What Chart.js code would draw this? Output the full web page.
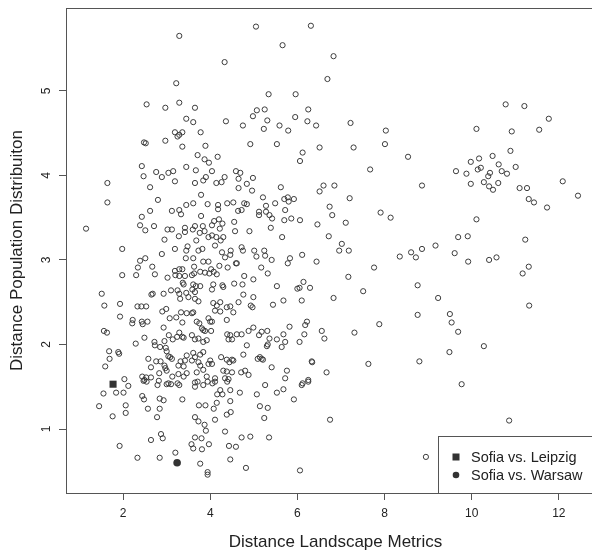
<!DOCTYPE html>
<html>
<head>
<meta charset="utf-8">
<script src="https://cdn.jsdelivr.net/npm/chart.js@4"></script>
<style>
  html, body { margin: 0; padding: 0; background: #fff; overflow: hidden; }
  #wrap { width: 592px; height: 554px; overflow: hidden; }
</style>
</head>
<body>
<div id="wrap"><canvas id="scatter" width="640" height="554"></canvas></div>
<script>
// tick labels
const xTicks = [2, 4, 6, 8, 10, 12];
const yTicks = [1, 2, 3, 4, 5];

// highlighted pairs [landscape distance, population distance]
const leipzig = [[1.77, 1.53]];
const warsaw = [[3.24, 0.60]];

// all other city pairs
const otherPairs = [
  [3.29,5.65],[3.22,5.09],[2.54,4.84],[2.97,4.80],[3.29,4.86],[3.65,4.80],[3.45,4.67],[3.61,4.63],[3.19,4.51],[3.36,4.51],[3.78,4.51],
  [5.05,5.76],[6.31,5.77],[5.66,5.54],[4.33,5.34],[6.83,5.41],[6.69,5.14],[5.34,4.96],[5.96,4.96],[5.07,4.77],[5.25,4.78],[6.25,4.78],
  [4.98,4.70],[5.95,4.69],[4.36,4.64],[5.31,4.65],[6.23,4.64],[4.75,4.59],[5.23,4.55],[5.59,4.59],[5.79,4.53],[6.43,4.59],[7.22,4.62],
  [8.03,4.53],[10.11,4.55],[10.78,4.84],[11.21,4.82],[11.77,4.67],[10.92,4.52],[11.55,4.54],
  [2.48,4.39],[2.52,4.38],[2.97,4.41],[3.25,4.46],[3.29,4.48],[3.36,4.34],[3.89,4.35],[3.71,4.24],[3.87,4.19],[3.97,4.15],[4.17,4.22],
  [2.43,4.11],[2.47,3.99],[2.76,4.04],[2.89,3.98],[3.04,4.03],[3.15,4.05],[3.45,4.10],[3.67,4.06],[4.04,4.05],[3.19,3.93],[3.65,3.91],
  [3.84,3.94],[3.90,3.98],[4.14,3.91],[1.64,3.91],[1.64,3.68],[2.62,3.86],[3.79,3.77],[2.80,3.71],[1.15,3.37],[2.62,3.58],[2.43,3.51],
  [3.12,3.58],[3.29,3.59],[3.33,3.54],[3.45,3.65],[3.61,3.67],[3.94,3.66],[4.18,3.65],[4.18,3.60],[3.79,3.52],[2.39,3.41],[2.51,3.35],
  [2.71,3.40],[3.02,3.36],[3.12,3.36],[3.42,3.38],[3.42,3.33],[3.28,3.28],[3.60,3.36],[3.65,3.40],[3.83,3.40],[3.76,3.32],[3.87,3.34],
  [4.04,3.41],[4.09,3.46],[3.96,3.27],[4.04,3.29],[4.14,3.27],[2.95,3.24],[3.68,3.23],[4.11,3.17],[1.98,3.13],[3.19,3.13],[3.48,3.16],
  [3.45,3.11],[3.73,3.11],[3.82,3.13],[2.89,3.07],[2.39,2.99],[2.51,3.02],[3.44,3.02],[3.61,3.02],[3.96,2.98],
  [4.92,4.37],[5.53,4.37],[6.51,4.33],[7.29,4.33],[6.12,4.27],[6.06,4.17],[7.67,4.07],[4.59,4.05],[4.69,4.03],[4.33,3.98],[4.26,3.92],
  [4.65,3.96],[4.98,3.97],[4.84,3.90],[4.65,3.85],[4.96,3.82],[5.62,3.86],[6.60,3.88],[6.85,3.88],[6.51,3.81],[7.20,3.73],[5.21,3.74],
  [5.70,3.72],[5.78,3.74],[5.92,3.72],[5.80,3.69],[5.49,3.67],[4.39,3.67],[4.53,3.68],[4.78,3.67],[4.84,3.66],[5.28,3.64],[4.64,3.58],
  [4.72,3.59],[5.12,3.57],[5.12,3.53],[5.28,3.57],[5.36,3.53],[5.42,3.49],[5.72,3.59],[6.74,3.63],[6.80,3.53],[5.70,3.47],[5.86,3.49],
  [6.06,3.47],[7.11,3.44],[6.46,3.42],[4.20,3.48],[4.28,3.43],[4.22,3.37],[4.55,3.45],[5.39,3.38],[4.57,3.34],[4.90,3.34],[4.30,3.27],
  [4.24,3.23],[5.65,3.27],[6.72,3.28],[7.02,3.19],[6.96,3.11],[7.18,3.11],[4.27,3.09],[4.47,3.11],[4.46,3.06],[4.34,3.03],[4.72,3.15],
  [4.75,3.11],[5.01,3.11],[5.24,3.11],[5.06,3.04],[5.26,3.05],[5.41,3.00],[5.83,3.02],[6.11,3.06],[6.44,2.98],[4.59,2.96],[5.78,2.96],
  [8.01,4.37],[8.54,4.22],[8.86,3.88],[10.89,4.29],[10.48,4.23],[10.17,4.20],[9.98,4.16],[10.21,4.09],[10.14,4.07],[10.62,4.13],
  [9.64,4.05],[9.88,4.02],[10.42,4.03],[10.38,3.99],[10.69,4.05],[10.81,4.02],[11.01,4.10],[9.98,3.90],[10.28,3.92],[10.40,3.87],
  [10.49,3.83],[10.61,3.91],[11.10,3.85],[11.27,3.85],[12.09,3.93],[11.31,3.72],[11.43,3.68],[11.73,3.62],[12.44,3.76],[7.91,3.56],
  [8.14,3.50],[10.11,3.48],[9.69,3.27],[9.91,3.28],[11.23,3.24],[8.35,3.04],[8.61,3.09],[8.72,3.03],[8.86,3.13],[9.17,3.17],[9.61,3.08],
  [9.92,2.98],[10.40,3.00],[10.57,3.03],
  [1.98,2.82],[2.30,2.82],[2.34,2.91],[2.67,2.92],[2.73,2.83],[3.02,2.79],[3.20,2.82],[3.29,2.81],[3.19,2.87],[3.29,2.89],[3.36,2.89],
  [1.51,2.60],[2.65,2.59],[2.68,2.60],[2.93,2.60],[3.10,2.64],[3.25,2.64],[3.29,2.60],[3.31,2.54],[3.37,2.73],[1.57,2.46],[1.93,2.48],
  [2.33,2.45],[2.42,2.45],[2.53,2.45],[2.90,2.39],[2.99,2.42],[3.33,2.38],[1.93,2.33],[2.22,2.29],[2.21,2.25],[2.43,2.27],[2.45,2.24],
  [2.56,2.27],[3.07,2.31],[3.22,2.32],[3.36,2.26],[2.93,2.20],[1.56,2.16],[1.63,2.14],[3.05,2.11],[3.29,2.14],[3.36,2.09],[2.49,2.08],
  [2.29,2.01],[2.72,2.03],[2.73,1.99],[2.85,1.97],[2.95,2.04],[2.98,1.96],[3.00,1.92],[3.04,1.86],[3.14,2.06],[3.24,2.09],[1.68,1.92],
  [1.89,1.91],[1.91,1.89],[1.69,1.83],[1.59,1.74],[2.58,1.83],[2.76,1.80],[2.86,1.80],[2.95,1.75],[2.64,1.73],[3.12,1.83],[3.08,1.85],
  [2.97,1.72],[3.00,1.69],[2.83,1.66],[3.27,1.75],[3.32,1.80],[2.44,1.62],[2.49,1.58],[2.53,1.61],[2.64,1.61],[3.13,1.62],[3.27,1.65],
  [2.03,1.59],[2.82,1.57],[3.04,1.54],[3.25,1.54],
  [3.63,2.92],[3.84,2.98],[4.02,2.89],[3.98,2.84],[4.08,2.86],[4.15,2.83],[4.21,2.93],[4.40,2.91],[4.61,2.96],[5.17,2.91],[5.32,2.84],
  [3.42,2.81],[3.58,2.82],[3.63,2.84],[3.77,2.86],[3.88,2.85],[3.39,2.71],[3.61,2.71],[3.67,2.69],[3.77,2.69],[3.59,2.65],[3.65,2.62],
  [4.07,2.71],[4.28,2.70],[4.30,2.68],[4.04,2.65],[4.55,2.72],[4.74,2.71],[4.78,2.81],[4.99,2.77],[5.53,2.69],[6.00,2.66],[6.05,2.67],
  [6.10,2.52],[5.68,2.52],[5.44,2.47],[3.45,2.61],[3.50,2.56],[3.65,2.54],[3.73,2.51],[4.07,2.49],[4.15,2.46],[4.23,2.50],[4.11,2.40],
  [4.23,2.39],[4.38,2.44],[4.46,2.45],[4.53,2.38],[4.65,2.50],[4.76,2.59],[4.93,2.46],[4.97,2.44],[4.99,2.56],[3.46,2.37],[3.58,2.37],
  [3.61,2.38],[3.69,2.27],[3.75,2.25],[3.96,2.31],[4.00,2.27],[4.04,2.27],[4.38,2.29],[3.81,2.19],[3.84,2.17],[3.88,2.16],[4.02,2.16],
  [3.39,2.08],[3.58,2.11],[3.65,2.06],[3.73,2.07],[3.84,2.03],[3.92,2.05],[4.39,2.12],[4.46,2.11],[4.61,2.12],[4.72,2.12],[4.42,2.06],
  [4.50,2.06],[4.88,2.16],[4.99,2.20],[5.12,2.11],[5.18,2.15],[5.31,2.16],[5.36,2.07],[5.30,1.98],[5.32,2.00],[5.53,2.06],[5.68,2.12],
  [5.82,2.21],[5.72,2.03],[5.64,1.97],[6.05,2.03],[4.84,1.99],[3.46,1.87],[3.61,1.90],[3.65,1.85],[3.77,1.88],[3.84,1.91],[3.42,1.81],
  [3.58,1.81],[3.39,1.74],[3.73,1.79],[3.77,1.75],[4.00,1.81],[4.04,1.77],[3.96,1.77],[4.25,1.85],[4.38,1.82],[4.44,1.79],[4.50,1.82],
  [4.53,1.81],[4.76,1.88],[5.09,1.83],[5.14,1.85],[5.18,1.83],[5.21,1.82],[5.41,1.73],[5.76,1.69],[5.72,1.60],[3.46,1.66],[3.39,1.62],
  [3.69,1.67],[3.84,1.70],[3.92,1.62],[4.11,1.60],[4.30,1.69],[4.38,1.68],[4.50,1.67],[4.34,1.60],[4.42,1.59],[4.71,1.67],[4.80,1.69],
  [4.88,1.64],
  [7.76,2.91],[7.17,2.80],[6.14,2.74],[6.29,2.67],[7.51,2.63],[6.83,2.55],[8.76,2.70],[8.76,2.35],[6.22,2.27],[6.18,2.23],[6.16,2.12],
  [6.56,2.16],[6.62,2.07],[7.31,2.14],[7.88,2.24],[6.33,1.80],[6.34,1.79],[7.63,1.77],[8.80,1.80],[6.67,1.67],[6.25,1.58],[6.12,1.54],
  [11.31,2.92],[11.17,2.84],[9.23,2.55],[11.32,2.46],[9.50,2.36],[9.54,2.26],[9.69,2.15],[10.28,1.98],[9.49,1.91],[9.77,1.53],
  [2.12,1.51],[1.55,1.42],[1.84,1.43],[2.01,1.43],[1.45,1.27],[1.76,1.15],[2.06,1.28],[2.06,1.19],[2.44,1.39],[2.48,1.35],[2.57,1.24],
  [2.84,1.36],[2.93,1.34],[2.79,1.52],[3.00,1.53],[3.10,1.53],[2.47,1.57],[2.54,1.56],[3.29,1.52],[2.84,1.24],[2.78,1.14],[3.36,1.35],
  [3.65,1.55],[3.71,1.56],[3.65,1.50],[3.84,1.52],[3.94,1.56],[4.05,1.54],[4.11,1.56],[3.74,1.28],[3.89,1.28],[4.08,1.24],[4.23,1.46],
  [4.16,1.41],[4.28,1.41],[4.15,1.31],[4.46,1.46],[4.46,1.33],[4.68,1.43],[4.39,1.56],[4.47,1.20],[4.38,1.17],[4.11,1.11],[3.65,1.14],
  [3.73,1.09],[3.87,1.05],[3.90,0.98],[5.07,1.41],[5.26,1.52],[5.53,1.43],[5.68,1.47],[5.14,1.27],[5.32,1.25],[5.24,1.13],[5.92,1.35],
  [4.34,0.97],[2.87,0.94],[2.91,0.89],[2.64,0.87],[1.92,0.80],[3.65,0.90],[3.80,0.89],[3.57,0.82],[3.61,0.77],[3.81,0.76],[3.97,0.82],
  [4.43,0.80],[4.59,0.79],[4.72,0.90],[4.92,0.91],[5.35,0.90],[4.46,0.64],[4.82,0.54],[3.20,0.72],[2.33,0.66],[2.84,0.66],[3.77,0.59],
  [3.94,0.49],[3.94,0.46],[6.06,0.51],
  [6.10,1.52],[6.25,1.56],[6.75,1.11],[10.86,1.10],[8.95,0.67]
];

const FONT = '"Liberation Sans", Arial, sans-serif';
const INK = '#222';
const FRAME = '#555';

const toXY = pairs => pairs.map(p => ({ x: p[0], y: p[1] }));

// R-style box, rotated y tick labels and the inset legend
const rDecor = {
  id: 'rDecor',
  afterDraw(chart) {
    const ctx = chart.ctx;
    const a = chart.chartArea;
    const ys = chart.scales.y;
    ctx.save();
    ctx.strokeStyle = FRAME;
    ctx.lineWidth = 1;
    ctx.strokeRect(a.left + 0.5, a.top + 0.5, a.right - a.left, a.bottom - a.top);

    ctx.fillStyle = INK;
    ctx.font = '12px ' + FONT;
    ctx.textAlign = 'center';
    ctx.textBaseline = 'middle';
    yTicks.forEach(v => {
      ctx.save();
      ctx.translate(a.left - 19, ys.getPixelForValue(v));
      ctx.rotate(-Math.PI / 2);
      ctx.fillText(String(v), 0, 0);
      ctx.restore();
    });

    // legend box
    const bx = a.left + 372, by = a.bottom - 57;
    ctx.fillStyle = '#fff';
    ctx.fillRect(bx, by, a.right - bx, a.bottom - by);
    ctx.strokeStyle = FRAME;
    ctx.strokeRect(bx + 0.5, by + 0.5, a.right - bx, a.bottom - by);
    const items = chart.data.datasets.slice(1);
    ctx.font = '14.5px ' + FONT;
    ctx.textAlign = 'left';
    items.forEach((ds, i) => {
      const cy = by + 21 + i * 18;
      const cx = bx + 18;
      ctx.fillStyle = ds.backgroundColor;
      if (ds.pointStyle === 'rect') {
        ctx.fillRect(cx - 3.5, cy - 3.5, 7, 7);
      } else {
        ctx.beginPath();
        ctx.arc(cx, cy, 3.3, 0, Math.PI * 2);
        ctx.fill();
      }
      ctx.fillStyle = INK;
      ctx.fillText(ds.label, bx + 33, cy + 1);
    });
    ctx.restore();
  }
};

new Chart(document.getElementById('scatter'), {
  type: 'scatter',
  data: {
    datasets: [
      { label: 'Other pairs', data: toXY(otherPairs), pointStyle: 'circle', pointRadius: 2.6,
        borderWidth: 1, borderColor: '#3c3c3c', backgroundColor: 'rgba(0,0,0,0)' },
      { label: 'Sofia vs. Leipzig', data: toXY(leipzig), pointStyle: 'rect', pointRadius: 5,
        borderWidth: 0, borderColor: '#333', backgroundColor: '#333' },
      { label: 'Sofia vs. Warsaw', data: toXY(warsaw), pointStyle: 'circle', pointRadius: 3.8,
        borderWidth: 0, borderColor: '#333', backgroundColor: '#333' }
    ]
  },
  options: {
    responsive: false,
    animation: false,
    events: [],
    layout: { padding: { top: 8, right: 35, left: 0, bottom: 0 } },
    plugins: { legend: { display: false }, tooltip: { enabled: false } },
    scales: {
      x: {
        type: 'linear', min: 0.69, max: 13.06,
        afterBuildTicks: s => { s.ticks = xTicks.map(v => ({ value: v })); },
        afterFit: s => { s.height = 61; },
        grid: { drawOnChartArea: false, drawTicks: true, tickLength: 7, color: FRAME },
        border: { display: true, color: FRAME },
        ticks: { color: INK, font: { family: FONT, size: 12 }, padding: 6, maxRotation: 0 },
        title: { display: true, text: 'Distance Landscape Metrics', color: INK,
                 font: { family: FONT, size: 17 }, padding: { top: 0, bottom: 1 } }
      },
      y: {
        type: 'linear', min: 0.243, max: 5.98,
        afterBuildTicks: s => { s.ticks = yTicks.map(v => ({ value: v })); },
        afterFit: s => { s.width = 66; },
        grid: { drawOnChartArea: false, drawTicks: true, tickLength: 7, color: FRAME },
        border: { display: true, color: FRAME },
        ticks: { display: false },
        title: { display: true, text: 'Distance Population Distribuiton', color: INK,
                 font: { family: FONT, size: 17 }, padding: { top: 7, bottom: 0 } }
      }
    }
  },
  plugins: [rDecor]
});
</script>
</body>
</html>
